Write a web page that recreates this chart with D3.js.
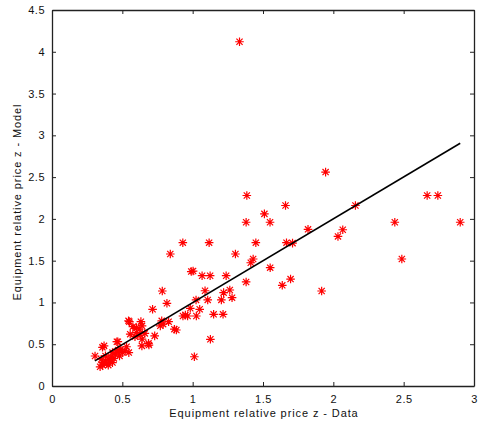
<!DOCTYPE html>
<html>
<head>
<meta charset="utf-8">
<script src="https://cdn.jsdelivr.net/npm/d3@7"></script>
<style>
  body { margin: 0; background: #fff; }
  svg { display: block; font-family: "Liberation Sans", Arial, sans-serif; }
</style>
</head>
<body>
<svg id="chart" width="479" height="429"></svg>
<script>
// data
const dataX = [1.333, 1.945, 1.385, 2.667, 2.743, 1.66, 2.157, 1.51, 1.38, 1.55,
  2.437, 2.902, 1.82, 2.067, 2.033, 0.93, 1.117, 1.449, 1.667, 1.71,
  0.841, 1.304, 2.487, 1.43, 1.413, 1.551, 1.003, 0.99, 1.067, 1.124,
  1.238, 1.696, 1.38, 1.637, 1.917, 0.784, 1.088, 1.264, 1.22, 1.28,
  1.204, 1.107, 1.024, 1.05, 0.983, 0.817, 0.931, 0.964, 1.026, 1.149,
  1.216, 0.948, 0.715, 1.126, 1.012, 0.884, 0.87, 0.829, 0.78, 0.77,
  0.79, 0.544, 0.55, 0.632, 0.60, 0.575, 0.62, 0.64, 0.556, 0.627,
  0.59, 0.64, 0.639, 0.689, 0.686, 0.468, 0.461, 0.359, 0.37, 0.306,
  0.546, 0.52, 0.50, 0.47, 0.45, 0.43, 0.42, 0.40, 0.38, 0.36,
  0.342, 0.36, 0.39, 0.41, 0.44, 0.48, 0.35, 0.38, 0.40, 0.43,
  0.46, 0.49, 0.53, 0.66, 0.60, 0.73];
const dataY = [4.12, 2.56, 2.28, 2.28, 2.28, 2.16, 2.16, 2.06, 1.96, 1.96,
  1.96, 1.96, 1.875, 1.87, 1.79, 1.715, 1.715, 1.715, 1.715, 1.71,
  1.58, 1.58, 1.52, 1.52, 1.475, 1.416, 1.376, 1.37, 1.32, 1.32,
  1.32, 1.28, 1.245, 1.205, 1.137, 1.137, 1.14, 1.149, 1.117, 1.057,
  1.03, 1.03, 1.03, 0.918, 0.93, 0.99, 0.838, 0.838, 0.838, 0.858,
  0.858, 0.85, 0.918, 0.559, 0.35, 0.67, 0.68, 0.77, 0.78, 0.72,
  0.74, 0.78, 0.77, 0.77, 0.70, 0.71, 0.68, 0.72, 0.62, 0.61,
  0.59, 0.56, 0.48, 0.49, 0.51, 0.53, 0.53, 0.463, 0.48, 0.359,
  0.40, 0.42, 0.40, 0.43, 0.38, 0.40, 0.35, 0.32, 0.30, 0.28,
  0.23, 0.25, 0.27, 0.30, 0.33, 0.36, 0.32, 0.36, 0.25, 0.28,
  0.41, 0.44, 0.47, 0.63, 0.64, 0.60];
const fitX = [0.305, 2.902];
const fitY = [0.30, 2.905];
const xTicks = [0, 0.5, 1, 1.5, 2, 2.5, 3];
const yTicks = [0, 0.5, 1, 1.5, 2, 2.5, 3, 3.5, 4, 4.5];

const svg = d3.select("#chart");
const m = {left: 52, right: 5, top: 10, bottom: 43};
const W = 479 - m.left - m.right, H = 429 - m.top - m.bottom;

const x = d3.scaleLinear().domain([0, 3]).range([0, W]);
const y = d3.scaleLinear().domain([0, 4.5]).range([H, 0]);

const g = svg.append("g").attr("transform", `translate(${m.left},${m.top})`);

// axes, ticks inside, mirrored on top/right
const fmt = d => d3.format("")(d);
g.append("g").attr("transform", `translate(0,${H})`)
  .call(d3.axisBottom(x).tickValues(xTicks).tickSizeInner(-4).tickSizeOuter(0).tickPadding(9).tickFormat(fmt));
g.append("g")
  .call(d3.axisLeft(y).tickValues(yTicks).tickSizeInner(-4).tickSizeOuter(0).tickPadding(7).tickFormat(fmt));
g.append("g")
  .call(d3.axisTop(x).tickValues(xTicks).tickSizeInner(-4).tickSizeOuter(0).tickFormat(""));
g.append("g").attr("transform", `translate(${W},0)`)
  .call(d3.axisRight(y).tickValues(yTicks).tickSizeInner(-4).tickSizeOuter(0).tickFormat(""));

g.selectAll(".domain").attr("stroke", "#222").attr("stroke-width", 1.3);
g.selectAll(".tick line").attr("stroke", "#222");
g.selectAll(".tick text").attr("fill", "#111").style("font-size", "11px").style("letter-spacing", "0.5px");

// asterisk markers
const pts = d3.zip(dataX, dataY);
const r = 4.3, rd = r * 0.72;
const star = `M${-r},0L${r},0M0,${-r}L0,${r}M${-rd},${-rd}L${rd},${rd}M${-rd},${rd}L${rd},${-rd}`;
g.append("g").selectAll("path")
  .data(pts)
  .join("path")
  .attr("transform", d => `translate(${x(d[0])},${y(d[1])})`)
  .attr("d", star)
  .attr("fill", "none")
  .attr("stroke", "#ff0000")
  .attr("stroke-width", 1.2);

// fitted line
g.append("path")
  .datum(d3.zip(fitX, fitY))
  .attr("d", d3.line().x(d => x(d[0])).y(d => y(d[1])))
  .attr("fill", "none")
  .attr("stroke", "#000")
  .attr("stroke-width", 1.6);

// axis labels
svg.append("text")
  .attr("x", m.left + W / 2 + 1).attr("y", 417)
  .attr("text-anchor", "middle")
  .style("font-size", "11px").style("letter-spacing", "0.9px")
  .attr("fill", "#111")
  .text("Equipment relative price z - Data");
svg.append("text")
  .attr("transform", `translate(21,${m.top + H / 2 + 4}) rotate(-90)`)
  .attr("text-anchor", "middle")
  .style("font-size", "11px").style("letter-spacing", "0.9px")
  .attr("fill", "#111")
  .text("Equipment relative price z - Model");
</script>
</body>
</html>
